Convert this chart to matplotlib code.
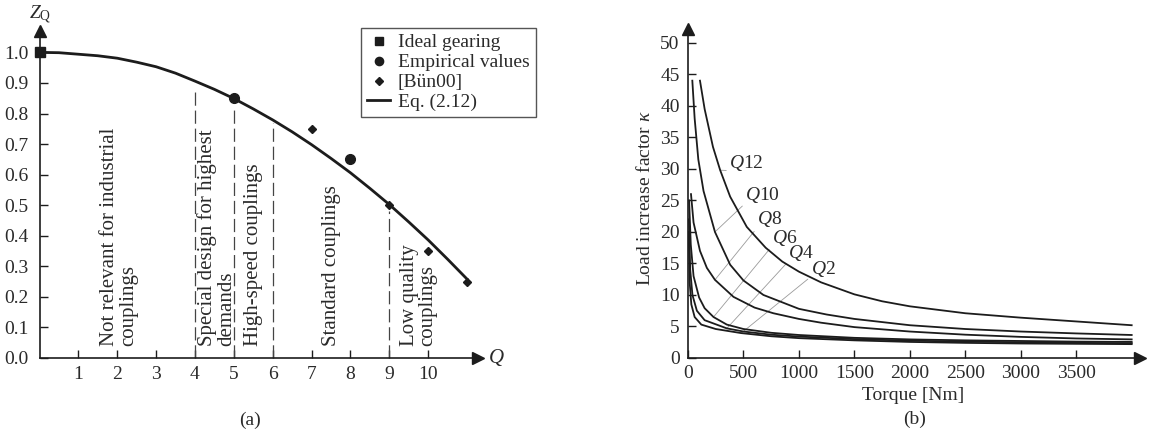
import matplotlib
matplotlib.use('Agg')
import matplotlib.pyplot as plt

plt.rcParams['font.family'] = ['Liberation Serif', 'DejaVu Serif']
plt.rcParams['mathtext.fontset'] = 'custom'
plt.rcParams['mathtext.rm'] = 'Liberation Serif'
plt.rcParams['mathtext.it'] = 'Liberation Serif:italic'
plt.rcParams['mathtext.bf'] = 'Liberation Serif:bold'
plt.rcParams['lines.scale_dashes'] = False

# ---------------- data: panel (a) ----------------
q_curve = [0, 0.5, 1, 1.5, 2, 2.5, 3, 3.5, 4, 4.5, 5, 5.5, 6, 6.5, 7, 7.5,
           8, 8.5, 9, 9.5, 10, 10.5, 11]
z_curve = [1.000, 0.999, 0.994, 0.989, 0.981, 0.968, 0.953, 0.932, 0.906,
           0.879, 0.849, 0.815, 0.779, 0.740, 0.698, 0.653, 0.606, 0.555,
           0.502, 0.445, 0.386, 0.323, 0.258]
ideal_q = [0]
ideal_z = [1.0]
emp_q = [5, 8]
emp_z = [0.85, 0.65]
bun_q = [7, 9, 10, 11]
bun_z = [0.75, 0.50, 0.35, 0.25]
boundary_q = [4, 5, 6, 9]
boundary_top = [0.875, 0.825, 0.770, 0.480]
region_labels = ["Not relevant for industrial\ncouplings",
                 "Special design for highest\ndemands",
                 "High-speed couplings",
                 "Standard couplings",
                 "Low quality\ncouplings"]
region_q = [2.05, 4.55, 5.5, 7.5, 9.75]
xticks_a = [1, 2, 3, 4, 5, 6, 7, 8, 9, 10]
yticks_a = [0.0, 0.1, 0.2, 0.3, 0.4, 0.5, 0.6, 0.7, 0.8, 0.9, 1.0]

# ---------------- data: panel (b) ----------------
t_q12 = [108, 150, 225, 290, 380, 530, 700, 850, 1000, 1200, 1500, 1750, 2000, 2500, 3000, 3500, 4000]
k_q12 = [44, 39.5, 33.5, 29.8, 25.6, 20.8, 17.5, 15.3, 13.7, 12.0, 10.1, 9.0, 8.2, 7.1, 6.4, 5.8, 5.2]
t_q10 = [39, 60, 93, 140, 243, 380, 500, 680, 1000, 1250, 1500, 2000, 2500, 3000, 3500, 4000]
k_q10 = [44, 38, 31.5, 26.5, 20.0, 14.8, 12.3, 10.0, 7.8, 6.9, 6.2, 5.2, 4.6, 4.2, 3.9, 3.65]
t_q8 = [27, 50, 108, 170, 243, 410, 600, 770, 1000, 1200, 1500, 2000, 2500, 3000, 3500, 4000]
k_q8 = [26, 21.5, 17.0, 14.3, 12.4, 9.7, 8.0, 7.1, 6.2, 5.6, 4.9, 4.2, 3.7, 3.35, 3.1, 2.95]
t_q6 = [10, 25, 50, 100, 150, 230, 350, 500, 750, 1000, 1500, 2000, 2500, 3000, 3500, 4000]
k_q6 = [25, 18, 13, 9.6, 7.9, 6.5, 5.3, 4.6, 4.0, 3.65, 3.2, 2.95, 2.8, 2.7, 2.6, 2.55]
t_q4 = [8, 20, 40, 80, 150, 350, 500, 750, 1000, 1500, 2000, 2500, 3000, 3500, 4000]
k_q4 = [22, 14, 10, 7.5, 6.0, 4.7, 4.2, 3.7, 3.4, 3.0, 2.75, 2.6, 2.5, 2.4, 2.35]
t_q2 = [6, 15, 30, 60, 120, 250, 480, 750, 1000, 1500, 2000, 2500, 3000, 3500, 4000]
k_q2 = [20, 12, 8.5, 6.5, 5.3, 4.6, 3.95, 3.45, 3.15, 2.8, 2.55, 2.4, 2.3, 2.25, 2.2]
curve_names = ["Q12", "Q10", "Q8", "Q6", "Q4", "Q2"]
leader_index = [3, 4, 4, 5, 5, 6]
xticks_b = [0, 500, 1000, 1500, 2000, 2500, 3000, 3500]
yticks_b = [0, 5, 10, 15, 20, 25, 30, 35, 40, 45, 50]

# ---------------- layout ----------------
W, H = 1156, 436
fig = plt.figure(figsize=(W / 100, H / 100), dpi=100)
FS = 14
INK = '#1c1c1c'
TXT = '#2a2a2a'

def px_axes(x0, x1, ytop, ybot):
    return fig.add_axes([x0 / W, 1 - ybot / H, (x1 - x0) / W, (ybot - ytop) / H])

def style_axes(ax):
    for s in ('top', 'right'):
        ax.spines[s].set_visible(False)
    for s in ('left', 'bottom'):
        ax.spines[s].set_linewidth(1.2)
        ax.spines[s].set_color(INK)
    ax.tick_params(direction='in', length=6, width=1, colors=INK,
                   labelsize=FS, labelcolor=TXT)
    ax.patch.set_alpha(0)
    ax.plot(1, 0, marker='>', color=INK, markersize=8, transform=ax.transAxes,
            clip_on=False)
    ax.plot(0, 1, marker='^', color=INK, markersize=8, transform=ax.transAxes,
            clip_on=False)

# ---- panel (a) ----
axA = px_axes(39.5, 478, 31, 358)
axA.set_xlim(0, 11.28)
axA.set_ylim(0, 1.07)
style_axes(axA)
axA.set_xticks(xticks_a)
axA.set_xticklabels([str(v) for v in xticks_a])
axA.set_yticks(yticks_a)
axA.set_yticklabels([f"{v:.1f}" for v in yticks_a])
axA.tick_params(axis='y', pad=8)
axA.tick_params(axis='x', pad=6)

for q, top in zip(boundary_q, boundary_top):
    axA.plot([q, q], [0, top], color='#444444', lw=0.9, dashes=(9.5, 3.5))

for lab, q in zip(region_labels, region_q):
    axA.text(q, 0.04, lab, rotation=90, ha='center', va='bottom',
             multialignment='left', fontsize=FS + 1, color=TXT,
             linespacing=1.0)

line_eq, = axA.plot(q_curve, z_curve, color=INK, lw=2.0, label='Eq. (2.12)',
                    zorder=3)
sq, = axA.plot(ideal_q, ideal_z, 's', color=INK, markersize=7.5,
               label='Ideal gearing', clip_on=False, zorder=4)
ci, = axA.plot(emp_q, emp_z, 'o', color=INK, markersize=7,
               label='Empirical values', zorder=4)
di, = axA.plot(bun_q, bun_z, 'D', color=INK, markersize=4.5,
               label='[Bün00]', clip_on=False, zorder=4)

leg = fig.legend(handles=[sq, ci, di, line_eq], loc='upper left',
                 bbox_to_anchor=(361 / W, 1 - 28 / H), borderaxespad=0,
                 fancybox=False, edgecolor='#555555', framealpha=1,
                 fontsize=FS, handlelength=1.2, handletextpad=0.4,
                 labelspacing=0.12, borderpad=0.3, markerscale=0.85)
leg.get_frame().set_linewidth(1.0)
for t in leg.get_texts():
    t.set_color(TXT)

fig.text(40 / W, 1 - 15 / H, r'$Z_{\mathrm{Q}}$', ha='center', va='center',
         fontsize=FS, color=TXT)
fig.text(488 / W, 1 - 358 / H, r'$Q$', ha='left', va='center',
         fontsize=FS + 1, color=TXT)
fig.text(250 / W, 1 - 420 / H, '(a)', ha='center', va='center',
         fontsize=FS, color=TXT)

# ---- panel (b) ----
axB = px_axes(688, 1140, 29, 358)
axB.set_xlim(0, 4075)
axB.set_ylim(0, 52.2)
style_axes(axB)
axB.set_xticks(xticks_b)
axB.set_xticklabels([str(v) for v in xticks_b])
axB.set_yticks(yticks_b)
axB.set_yticklabels([str(v) for v in yticks_b])
axB.tick_params(axis='y', pad=6)
axB.tick_params(axis='x', pad=5)

curves_t = [t_q12, t_q10, t_q8, t_q6, t_q4, t_q2]
curves_k = [k_q12, k_q10, k_q8, k_q6, k_q4, k_q2]
for t, k in zip(curves_t, curves_k):
    axB.plot(t, k, color=INK, lw=1.3, zorder=3)

label_pos = [(370, 31.0), (515, 25.9), (622, 22.0), (757, 19.1), (905, 16.7), (1105, 14.2)]
for name, t, k, idx, pos in zip(curve_names, curves_t, curves_k, leader_index, label_pos):
    axB.annotate(r'$Q$' + name[1:], xy=(t[idx], k[idx]), xytext=pos,
                 ha='left', va='center', fontsize=FS, color=TXT,
                 arrowprops=dict(arrowstyle='-', color='#9a9a9a', lw=0.6,
                                 shrinkA=0, shrinkB=0, relpos=(0.02, 0.1)),
                 zorder=2)

fig.text(645 / W, 1 - 198 / H, r'Load increase factor $\kappa$', rotation=90,
         ha='center', va='center', fontsize=FS, color=TXT)
fig.text(913 / W, 1 - 395 / H, 'Torque [Nm]', ha='center', va='center',
         fontsize=FS, color=TXT)
fig.text(915 / W, 1 - 419 / H, '(b)', ha='center', va='center',
         fontsize=FS, color=TXT)

fig.savefig('out.png', dpi=100)
